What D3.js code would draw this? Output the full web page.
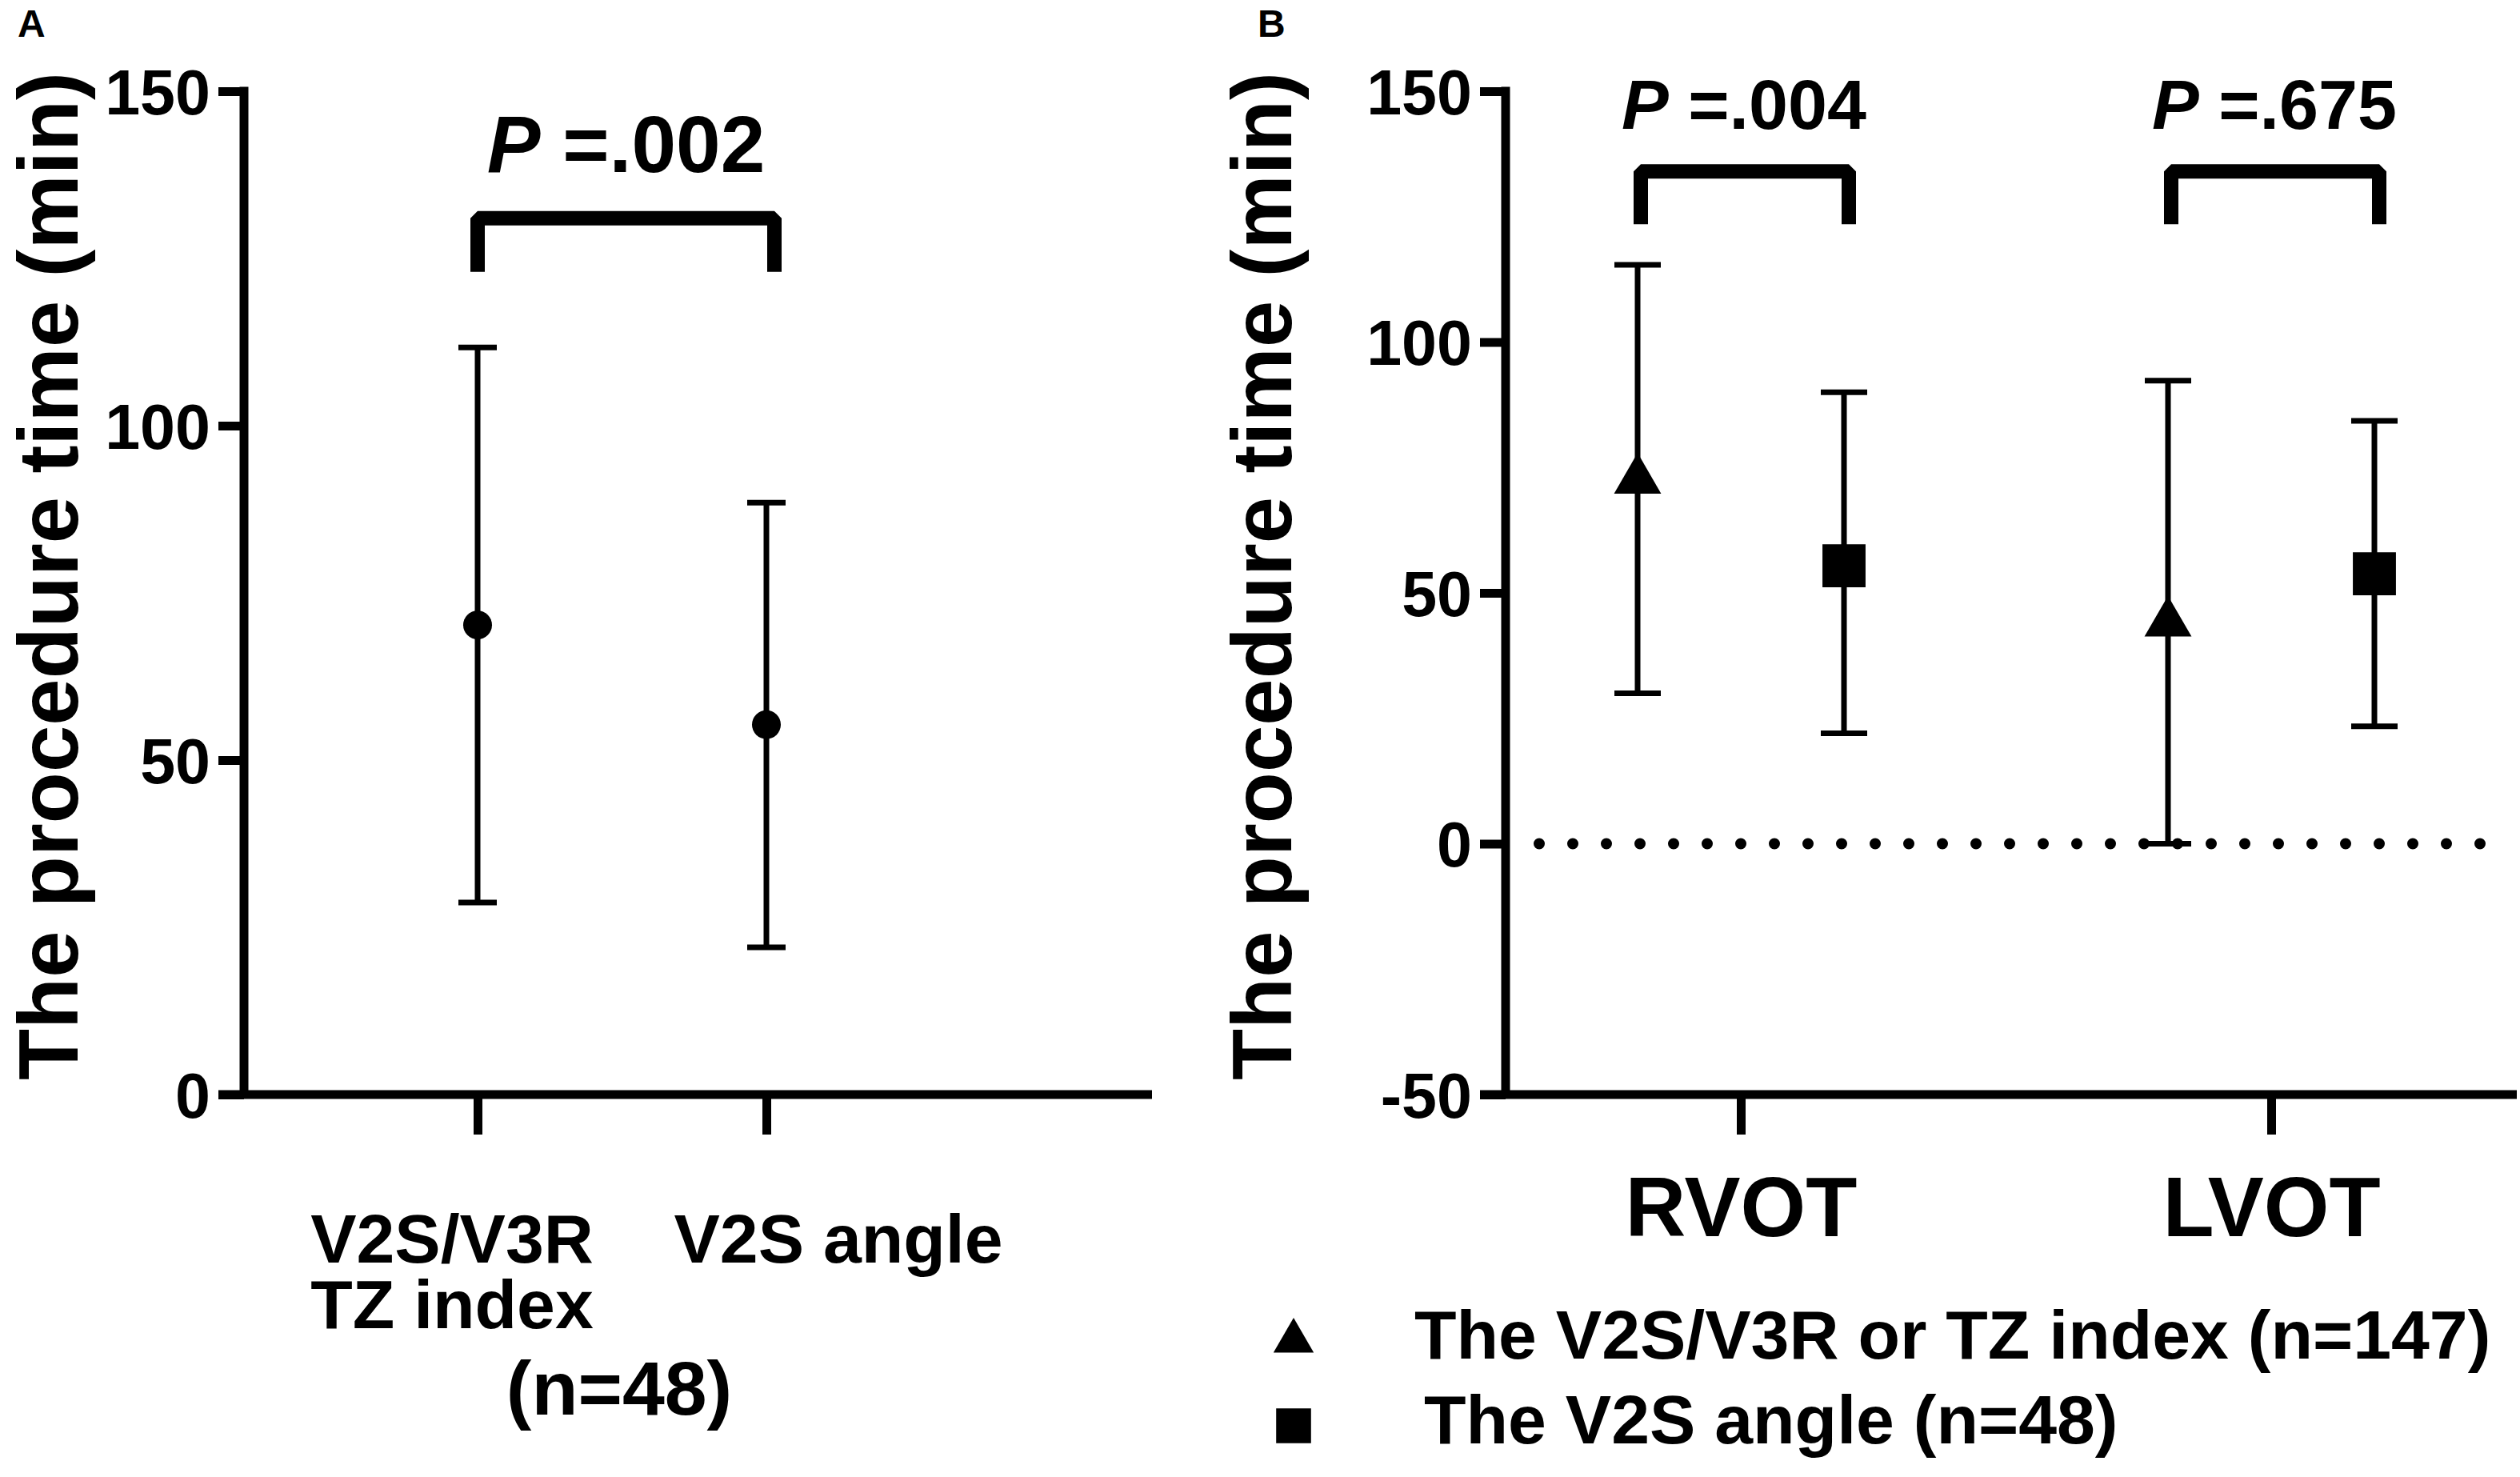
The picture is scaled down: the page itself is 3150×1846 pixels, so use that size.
<!DOCTYPE html>
<html>
<head>
<meta charset="utf-8">
<script src="https://cdn.jsdelivr.net/npm/d3@7"></script>
<style>
  body { margin: 0; background: #fff; }
  text { font-family: "Liberation Sans", Arial, sans-serif; font-weight: bold; fill: #000; }
</style>
</head>
<body>
<div id="chart"></div>
<script>
// Panel A data
const catsA = ["V2S/V3R|TZ index", "V2S angle"];
const meanA = [70.2, 55.3];
const upperA = [111.7, 88.5];
const lowerA = [28.7, 22.0];
const ticksA = [0, 50, 100, 150];
const pA = ".002";
const groupA = "(n=48)";

// Panel B data
const catsB = ["RVOT", "LVOT"];
const seriesB = ["The V2S/V3R or TZ index (n=147)", "The V2S angle (n=48)"];
const meanTZ = [72.5, 44.0];
const upperTZ = [115.4, 92.3];
const lowerTZ = [30.0, 0.0];
const meanAngle = [55.4, 53.8];
const upperAngle = [90.0, 84.3];
const lowerAngle = [22.0, 23.4];
const ticksB = [-50, 0, 50, 100, 150];
const pB = [".004", ".675"];

const yTitle = "The procedure time (min)";

const W = 3150, H = 1846;
const svg = d3.select("#chart").append("svg")
  .attr("width", W).attr("height", H);

const plotTop = 114, plotBottom = 1368;
const axisW = 11;

// panel letters
svg.append("text").attr("x", 22).attr("y", 46).attr("font-size", 48).text("A");
svg.append("text").attr("x", 1572).attr("y", 46).attr("font-size", 48).text("B");

// draws the y axis with ticks and labels
function yAxis(g, y, x0, ticks) {
  const ax = g.append("g")
    .attr("transform", "translate(" + x0 + ",0)")
    .call(d3.axisLeft(y).tickValues(ticks).tickSize(32).tickPadding(10)
      .tickFormat(d => String(d)));
  ax.select(".domain").remove();
  ax.selectAll("line").attr("stroke", "#000").attr("stroke-width", axisW);
  ax.selectAll("text")
    .attr("font-size", 79)
    .attr("font-family", "Liberation Sans, Arial, sans-serif")
    .attr("font-weight", "bold")
    .attr("dy", "0.36em");
  g.append("line")
    .attr("x1", x0).attr("x2", x0)
    .attr("y1", plotTop - axisW / 2).attr("y2", plotBottom)
    .attr("stroke", "#000").attr("stroke-width", axisW);
}

function xLine(g, x0, x1) {
  g.append("line")
    .attr("x1", x0).attr("x2", x1)
    .attr("y1", plotBottom).attr("y2", plotBottom)
    .attr("stroke", "#000").attr("stroke-width", axisW);
}

function errorBar(g, x, y, hi, lo, capW) {
  g.append("line")
    .attr("x1", x).attr("x2", x)
    .attr("y1", y(hi)).attr("y2", y(lo))
    .attr("stroke", "#000").attr("stroke-width", 7);
  [hi, lo].forEach(v => {
    g.append("line")
      .attr("x1", x - capW / 2).attr("x2", x + capW / 2)
      .attr("y1", y(v)).attr("y2", y(v))
      .attr("stroke", "#000").attr("stroke-width", 7);
  });
}

function bracket(g, xL, xR, yTop, yLeg) {
  g.append("path")
    .attr("d", "M" + xL + "," + yLeg + "V" + yTop + "H" + xR + "V" + yLeg)
    .attr("fill", "none")
    .attr("stroke", "#000")
    .attr("stroke-width", 18)
    .attr("stroke-linejoin", "bevel");
}

function pText(g, cx, baseY, size, val) {
  const t = g.append("text")
    .attr("x", cx).attr("y", baseY)
    .attr("text-anchor", "middle")
    .attr("font-size", size);
  t.append("tspan").attr("font-style", "italic").text("P");
  t.append("tspan").text(" =" + val);
}

function title(g, x, cy) {
  g.append("text")
    .attr("transform", "translate(" + x + "," + cy + ")rotate(-90)")
    .attr("text-anchor", "middle")
    .attr("font-size", 105)
    .text(yTitle);
}

// ---------------- Panel A ----------------
const gA = svg.append("g");
const axA = 305;
const yA = d3.scaleLinear().domain([0, 150]).range([plotBottom, plotTop]);
const xA = d3.scalePoint().domain(catsA).range([597, 958]);

title(gA, 97, 720);
yAxis(gA, yA, axA, ticksA);
xLine(gA, axA - 32, 1440);

const xAxA = gA.append("g")
  .attr("transform", "translate(0," + plotBottom + ")")
  .call(d3.axisBottom(xA).tickSize(50).tickFormat(""));
xAxA.select(".domain").remove();
xAxA.selectAll("line").attr("stroke", "#000").attr("stroke-width", axisW);

// category labels (shifted as in the original figure)
const labShiftA = [-32, 90];
catsA.forEach((c, i) => {
  c.split("|").forEach((l, j) => {
    gA.append("text")
      .attr("text-anchor", "middle")
      .attr("font-size", 86)
      .attr("x", xA(c) + labShiftA[i])
      .attr("y", 1578 + j * 82)
      .text(l);
  });
});
gA.append("text")
  .attr("x", 774).attr("y", 1768)
  .attr("text-anchor", "middle")
  .attr("font-size", 95)
  .text(groupA);

catsA.forEach((c, i) => {
  errorBar(gA, xA(c), yA, upperA[i], lowerA[i], 48);
  gA.append("circle")
    .attr("cx", xA(c)).attr("cy", yA(meanA[i]))
    .attr("r", 18).attr("fill", "#000");
});

bracket(gA, xA(catsA[0]), xA(catsA[1]) + 10, yA(131), yA(123));
pText(gA, (xA(catsA[0]) + xA(catsA[1])) / 2 + 5, 215, 100, pA);

// ---------------- Panel B ----------------
const gB = svg.append("g");
const axB = 1882;
const yB = d3.scaleLinear().domain([-50, 150]).range([plotBottom, plotTop]);
const xB = d3.scalePoint().domain(catsB).range([2176, 2839]);
const off = 129;

title(gB, 1614, 720);

// dotted zero line
gB.append("line")
  .attr("x1", axB + 42).attr("x2", 3140)
  .attr("y1", yB(0)).attr("y2", yB(0))
  .attr("stroke", "#000").attr("stroke-width", 14)
  .attr("stroke-linecap", "round")
  .attr("stroke-dasharray", "0,42");

yAxis(gB, yB, axB, ticksB);
xLine(gB, axB - 32, 3146);

const xAxB = gB.append("g")
  .attr("transform", "translate(0," + plotBottom + ")")
  .call(d3.axisBottom(xB).tickSize(50).tickPadding(52));
xAxB.select(".domain").remove();
xAxB.selectAll("line").attr("stroke", "#000").attr("stroke-width", axisW);
xAxB.selectAll("text")
  .attr("font-size", 105)
  .attr("font-family", "Liberation Sans, Arial, sans-serif")
  .attr("font-weight", "bold");

const tri = d3.symbol().type(d3.symbolTriangle).size(1500);
const sq = d3.symbol().type(d3.symbolSquare).size(2900);

catsB.forEach((c, i) => {
  const x1 = xB(c) - off, x2 = xB(c) + off;
  errorBar(gB, x1, yB, upperTZ[i], lowerTZ[i], 58);
  errorBar(gB, x2, yB, upperAngle[i], lowerAngle[i], 58);
  gB.append("path").attr("d", tri())
    .attr("transform", "translate(" + x1 + "," + yB(meanTZ[i]) + ")");
  gB.append("path").attr("d", sq())
    .attr("transform", "translate(" + x2 + "," + yB(meanAngle[i]) + ")");
  bracket(gB, x1 + 4, x2 + 6, yB(134), yB(123.5));
  pText(gB, xB(c) + 4, 161, 88, pB[i]);
});

// legend
const legTri = d3.symbol().type(d3.symbolTriangle).size(1100);
const legSq = d3.symbol().type(d3.symbolSquare).size(1900);
gB.append("path").attr("d", legTri()).attr("transform", "translate(1617,1676)");
gB.append("path").attr("d", legSq()).attr("transform", "translate(1617,1782)");
gB.append("text").attr("x", 1768).attr("y", 1698).attr("font-size", 86).text(seriesB[0]);
gB.append("text").attr("x", 1780).attr("y", 1804).attr("font-size", 86).text(seriesB[1]);
</script>
</body>
</html>
